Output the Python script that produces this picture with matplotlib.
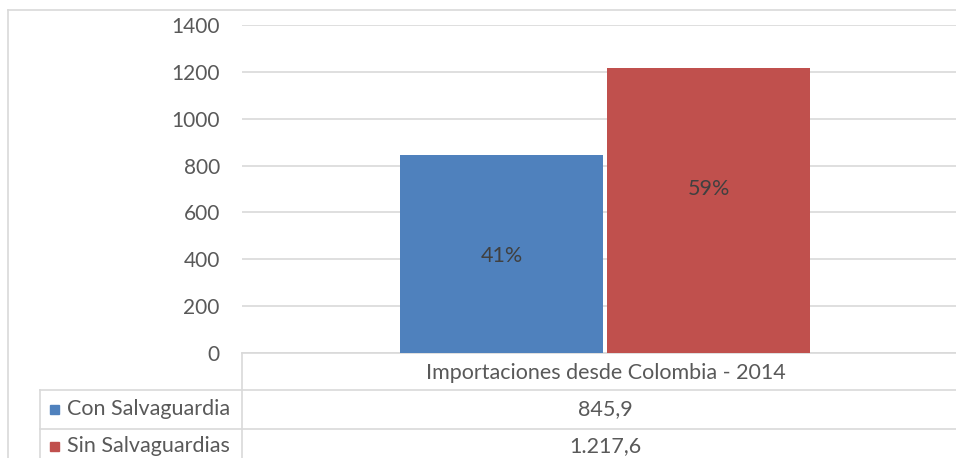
import matplotlib
matplotlib.use("Agg")
import matplotlib.pyplot as plt

categories = ["Importaciones desde Colombia - 2014"]
series_names = ["Con Salvaguardia", "Sin Salvaguardias"]
values = [845.9, 1217.6]
colors = ["#4F81BD", "#C0504D"]
yticks = [0, 200, 400, 600, 800, 1000, 1200, 1400]
label_frac = [0.487, 0.574]  # vertical placement of percent labels within bars

W, H = 956, 458
plt.rcParams['font.family'] = ['Lato', 'DejaVu Sans']
fig = plt.figure(figsize=(W / 100, H / 100), dpi=100)
fig.patch.set_facecolor("white")

def fx(px):
    return px / W

def fy(py):
    return 1 - py / H

GRID = "#d9d9d9"
TXT = "#595959"
FS = 15.5

# main plot axes
left_px, right_px, top_px, base_px = 242, 968, 25, 353
ax = fig.add_axes([fx(left_px), fy(base_px), fx(right_px - left_px), (base_px - top_px) / H])
ax.set_xlim(-0.5, 0.5)
ax.set_ylim(0, 1400)
ax.set_facecolor("none")
for s in ax.spines.values():
    s.set_visible(False)
ax.set_yticks(yticks)
ax.set_yticklabels([str(t) for t in yticks], fontsize=15, color=TXT)
ax.tick_params(axis="y", length=0, pad=16)
ax.set_xticks([])
ax.grid(axis="y", color=GRID, linewidth=1.2)
ax.set_axisbelow(True)

bw = 203 / 726
off = 207 / 2 / 726
total = sum(values)
for i, (v, c) in enumerate(zip(values, colors)):
    x = (-off if i == 0 else off)
    ax.bar(x, v, width=bw, color=c, zorder=2)
    pct = round(v / total * 100)
    ax.text(x, v * label_frac[i], f"{pct}%", ha="center", va="center",
            fontsize=FS, color="#404040", zorder=3)

# overlay for table & border
ov = fig.add_axes([0, 0, 1, 1])
ov.set_xlim(0, W)
ov.set_ylim(H, 0)
ov.axis("off")
ov.set_zorder(-1)

lw = 1.2
# outer chart border
ov.plot([8, 8], [10, H], color=GRID, lw=lw)
ov.plot([8, W], [10, 10], color=GRID, lw=lw)
# table lines
ov.plot([242, W], [353, 353], color=GRID, lw=lw)
ov.plot([40, W], [390, 390], color=GRID, lw=lw)
ov.plot([40, W], [429, 429], color=GRID, lw=lw)
ov.plot([242, 242], [353, H], color=GRID, lw=lw)
ov.plot([40, 40], [390, H], color=GRID, lw=lw)

ov2 = fig.add_axes([0, 0, 1, 1])
ov2.set_xlim(0, W)
ov2.set_ylim(H, 0)
ov2.axis("off")

def fmt_es(v):
    s = f"{v:,.1f}"
    return s.replace(",", "X").replace(".", ",").replace("X", ".")

ov2.text(606, 373, categories[0], ha="center", va="center", fontsize=FS, color=TXT)
row_y = [409, 446]
for i, name in enumerate(series_names):
    ov2.text(605, row_y[i], fmt_es(values[i]), ha="center", va="center", fontsize=FS, color=TXT)
    ov2.add_patch(plt.Rectangle((50, row_y[i] - 4.5), 9, 9, color=colors[i]))
    ov2.text(67, row_y[i], name, ha="left", va="center", fontsize=FS, color=TXT)

fig.savefig("out.png", dpi=100, facecolor="white")
